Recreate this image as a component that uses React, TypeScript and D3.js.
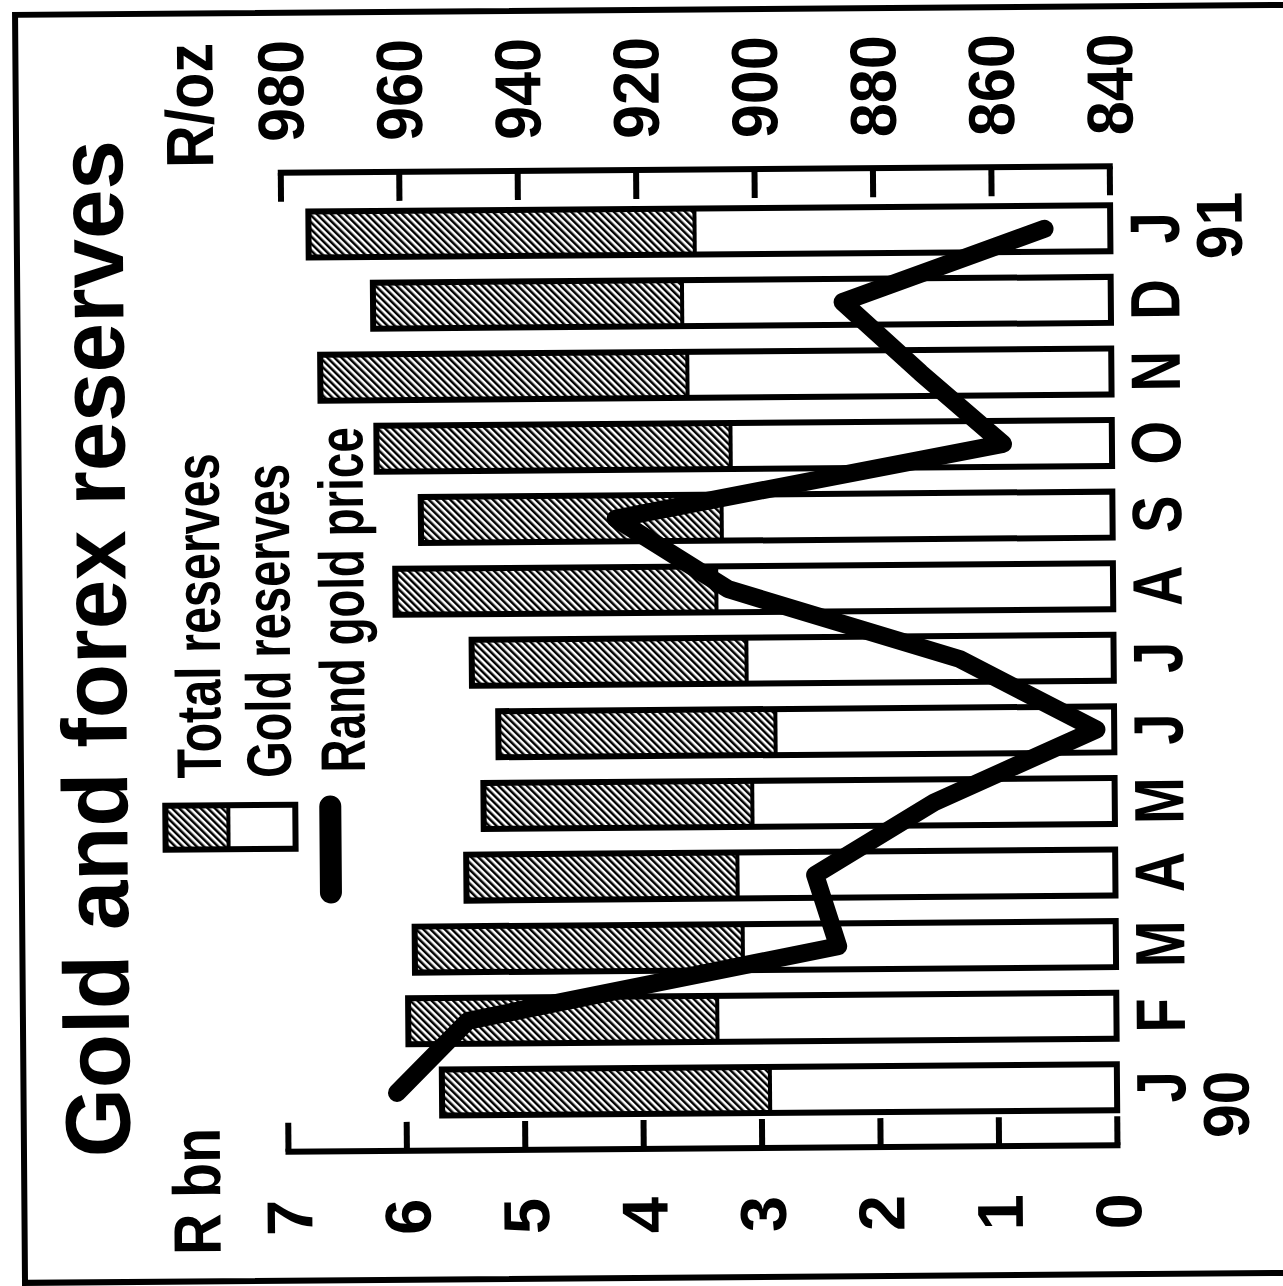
import React from 'react';
import * as d3 from 'd3';

// ---- data ----
const months = ['J', 'F', 'M', 'A', 'M', 'J', 'J', 'A', 'S', 'O', 'N', 'D', 'J'];
const yearLabels = [
  { i: 0, t: '90' },
  { i: 12, t: '91' },
];
const totalReserves = [5.7, 5.98, 5.92, 5.48, 5.33, 5.2, 5.42, 6.06, 5.84, 6.21, 6.68, 6.23, 6.77];
const goldReserves = [2.93, 3.37, 3.15, 3.19, 3.06, 2.86, 3.1, 3.35, 3.3, 3.22, 3.58, 3.62, 3.51];
const randGoldPrice = [961.6, 949.5, 886.9, 890.7, 870.5, 843, 866, 905, 923.9, 858.4, 872.2, 885.3, 851.1];
const leftTicks = [0, 1, 2, 3, 4, 5, 6, 7];
const rightTicks = [840, 860, 880, 900, 920, 940, 960, 980];
const legendItems = ['Total reserves', 'Gold reserves', 'Rand gold price'];

const FONT = 'Liberation Sans, Arial, Helvetica, sans-serif';

export default function App() {
  const W = 1283;
  const H = 1286;

  // chart is drawn in its upright frame, then rotated -90deg
  const x = d3.scalePoint<number>().domain(d3.range(months.length)).range([195, 1054]);
  const yL = d3.scaleLinear().domain([0, 7]).range([1113.5, 284.5]);
  const yR = d3.scaleLinear().domain([840, 980]).range([1113.5, 284.5]);
  const barW = 46;
  const base = yL(0);

  const line = d3
    .line<number>()
    .x((_, i) => x(i) as number)
    .y((d) => yR(d));

  const leftAxisX = 137;
  const rightAxisX = 1116;
  const tickLen = 29;

  return (
    <svg
      width={W}
      height={H}
      style={{ position: 'absolute', left: 0, top: 0, background: '#fff' }}
      fontFamily={FONT}
    >
      <defs>
        <pattern id="hatch" patternUnits="userSpaceOnUse" width="5" height="5" patternTransform="rotate(45)">
          <rect width="5" height="5" fill="#fff" />
          <rect width="2.5" height="5" fill="#000" />
        </pattern>
      </defs>
      <rect x={0} y={0} width={W} height={H} fill="#fff" />
      <g transform="rotate(-0.45 641 643)">
        <rect x={20} y={10} width={1320} height={1268} fill="none" stroke="#000" strokeWidth={6} />
        <g transform={`translate(0,${H}) rotate(-90)`}>
          {/* title */}
          <text x={133} y={126} fontSize={92} fontWeight="bold" textLength={1017} lengthAdjust="spacingAndGlyphs">
            Gold and forex reserves
          </text>
          {/* axis unit labels */}
          <text x={34.5} y={216} fontSize={67} fontWeight="bold" textLength={127} lengthAdjust="spacingAndGlyphs">
            R bn
          </text>
          <text x={1121.5} y={217} fontSize={67} fontWeight="bold" textLength={125} lengthAdjust="spacingAndGlyphs">
            R/oz
          </text>

          {/* legend */}
          <rect x={440} y={164} width={44} height={63} fill="url(#hatch)" />
          <rect x={440} y={227} width={44} height={67} fill="#fff" />
          <line x1={440} x2={484} y1={227} y2={227} stroke="#000" strokeWidth={4} />
          <rect x={440} y={164} width={44} height={130} fill="none" stroke="#000" strokeWidth={6} />
          <line x1={396} x2={482} y1={329} y2={329} stroke="#000" strokeWidth={22} strokeLinecap="round" />
          <text x={511} y={220} fontSize={63} fontWeight="bold" textLength={325} lengthAdjust="spacingAndGlyphs">
            {legendItems[0]}
          </text>
          <text x={511} y={290} fontSize={63} fontWeight="bold" textLength={314} lengthAdjust="spacingAndGlyphs">
            {legendItems[1]}
          </text>
          <text x={516} y={364} fontSize={63} fontWeight="bold" textLength={345} lengthAdjust="spacingAndGlyphs">
            {legendItems[2]}
          </text>

          {/* left axis (R bn) */}
          <line x1={leftAxisX} x2={leftAxisX} y1={yL(7) - 3} y2={yL(0) + 3} stroke="#000" strokeWidth={6} />
          {leftTicks.map((t) => (
            <g key={'lt' + t}>
              <line x1={leftAxisX} x2={leftAxisX + tickLen} y1={yL(t)} y2={yL(t)} stroke="#000" strokeWidth={6} />
              <text x={89} y={yL(t)} dy="0.358em" fontSize={65} fontWeight="bold" textAnchor="end">
                {t}
              </text>
            </g>
          ))}

          {/* right axis (R/oz) */}
          <line x1={rightAxisX} x2={rightAxisX} y1={yR(980) - 3} y2={yR(840) + 3} stroke="#000" strokeWidth={6} />
          {rightTicks.map((t) => (
            <g key={'rt' + t}>
              <line x1={rightAxisX} x2={rightAxisX - tickLen} y1={yR(t)} y2={yR(t)} stroke="#000" strokeWidth={6} />
              <text x={1147} y={yR(t)} dy="0.358em" fontSize={65} fontWeight="bold" textLength={102} lengthAdjust="spacingAndGlyphs">
                {t}
              </text>
            </g>
          ))}

          {/* bars */}
          {months.map((m, i) => {
            const cx = x(i) as number;
            const yt = yL(totalReserves[i]);
            const yg = yL(goldReserves[i]);
            return (
              <g key={'b' + i}>
                <rect x={cx - barW / 2} y={yt} width={barW} height={yg - yt} fill="url(#hatch)" />
                <rect x={cx - barW / 2} y={yg} width={barW} height={base - yg} fill="#fff" />
                <line x1={cx - barW / 2} x2={cx + barW / 2} y1={yg} y2={yg} stroke="#000" strokeWidth={4} />
                <rect x={cx - barW / 2} y={yt} width={barW} height={base - yt} fill="none" stroke="#000" strokeWidth={6} />
              </g>
            );
          })}

          {/* rand gold price line */}
          <path
            d={line(randGoldPrice) || ''}
            fill="none"
            stroke="#000"
            strokeWidth={18}
            strokeLinejoin="round"
            strokeLinecap="round"
          />

          {/* month labels */}
          {months.map((m, i) => (
            <g key={'m' + i} transform={`translate(${x(i)},1182) scale(0.8,1)`}>
              <text x={0} y={0} fontSize={70} fontWeight="bold" textAnchor="middle">
                {m}
              </text>
            </g>
          ))}
          {yearLabels.map((yl) => (
            <g
              key={'y' + yl.t}
              transform={`translate(${(x(yl.i) as number) + (yl.i === 0 ? -18 : 2)},1245) scale(0.93,1)`}
            >
              <text x={0} y={0} fontSize={65} fontWeight="bold" textAnchor="middle">
                {yl.t}
              </text>
            </g>
          ))}
        </g>
      </g>
    </svg>
  );
}
